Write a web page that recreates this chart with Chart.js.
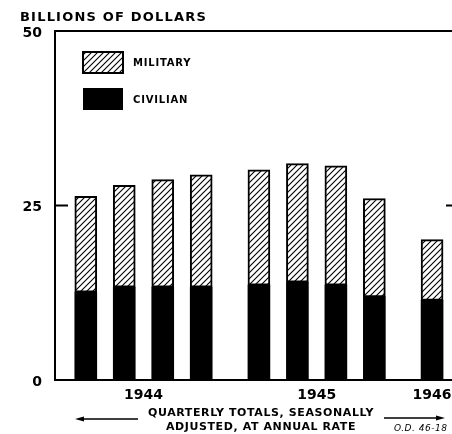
<!DOCTYPE html>
<html><head><meta charset="utf-8">
<script src="https://cdn.jsdelivr.net/npm/chart.js@4/dist/chart.umd.min.js"></script>
<style>
html,body{margin:0;padding:0;background:#fff;overflow:hidden;width:452px;height:434px}
#wrap{width:470px;height:434px;position:relative}
</style>
</head><body><div id="wrap"><canvas id="c" width="470" height="434"></canvas></div>
<script>
// ---- data ----
const years = ['1944', '1945', '1946'];
const quarterLabels = ['1944 Q1','1944 Q2','1944 Q3','1944 Q4','1945 Q1','1945 Q2','1945 Q3','1945 Q4','1946 Q1'];
const civilianValues = [12.6, 13.3, 13.3, 13.3, 13.6, 14.0, 13.6, 11.9, 11.4];
const militaryValues = [13.7, 14.6, 15.4, 16.1, 16.5, 17.0, 17.1, 14.1, 8.7];
const yTickValues = [0, 25, 50];

// ---- layout helpers (derived from categories) ----
const YEAR_STEP = 4.5; // quarters + gap between year groups
const slots = quarterLabels.map(l => {
  const [y, q] = l.split(' ');
  return years.indexOf(y) * YEAR_STEP + (parseInt(q.slice(1)) - 1);
});
const yearSlots = years.map(y => {
  const s = slots.filter((v, i) => quarterLabels[i].startsWith(y));
  return s.reduce((a, b) => a + b, 0) / s.length;
});

const FONT = "'DejaVu Sans', sans-serif";

function makeHatch(ctx) {
  const c = document.createElement('canvas');
  c.width = 6; c.height = 6;
  const g = c.getContext('2d');
  g.fillStyle = '#fff'; g.fillRect(0, 0, 6, 6);
  g.strokeStyle = '#000'; g.lineWidth = 1.1;
  g.beginPath();
  g.moveTo(-1, 7); g.lineTo(7, -1);
  g.moveTo(-4, 4); g.lineTo(4, -4);
  g.moveTo(2, 10); g.lineTo(10, 2);
  g.stroke();
  return ctx.createPattern(c, 'repeat');
}

const canvas = document.getElementById('c');
const ctx = canvas.getContext('2d');
const hatch = makeHatch(ctx);

const decor = {
  id: 'decor',
  afterDraw(chart) {
    const c = chart.ctx, a = chart.chartArea, ys = chart.scales.y;
    c.save();
    c.strokeStyle = '#000'; c.lineWidth = 2;
    // frame top/right
    c.beginPath();
    c.moveTo(a.left, a.top); c.lineTo(a.right, a.top); c.lineTo(a.right, a.bottom);
    c.stroke();
    // inner ticks at 25
    const p = ys.getPixelForValue(25);
    c.beginPath();
    c.moveTo(a.left, p); c.lineTo(a.left + 13, p);
    c.moveTo(a.right, p); c.lineTo(a.right - 13, p);
    c.stroke();
    c.fillStyle = '#000';
    // title
    c.font = 'bold 13px ' + FONT; c.letterSpacing = '1.2px';
    c.textBaseline = 'middle'; c.textAlign = 'left';
    c.fillText('BILLIONS OF DOLLARS', 20, 18);
    // legend
    c.fillStyle = hatch; c.fillRect(83, 52, 40, 21);
    c.strokeRect(83, 52, 40, 21);
    c.fillStyle = '#000'; c.fillRect(83, 88, 40, 22);
    c.font = 'bold 10px ' + FONT; c.letterSpacing = '0.8px';
    c.fillText('MILITARY', 133, 63);
    c.fillText('CIVILIAN', 133, 100);
    // bottom caption
    c.font = 'bold 11px ' + FONT; c.letterSpacing = '0.6px'; c.textAlign = 'center';
    c.fillText('QUARTERLY TOTALS, SEASONALLY', 261, 413);
    c.fillText('ADJUSTED, AT ANNUAL RATE', 261, 427);
    // arrows
    c.lineWidth = 1.5;
    c.beginPath(); c.moveTo(78, 419); c.lineTo(138, 419); c.moveTo(384, 418); c.lineTo(441, 418); c.stroke();
    c.beginPath(); c.moveTo(75, 419); c.lineTo(84, 416.5); c.lineTo(84, 421.5); c.closePath(); c.fill();
    c.beginPath(); c.moveTo(445, 418); c.lineTo(436, 415.5); c.lineTo(436, 420.5); c.closePath(); c.fill();
    // code
    c.font = 'italic 9px ' + FONT; c.letterSpacing = '0.5px'; c.textAlign = 'left';
    c.fillText('O.D. 46-18', 394, 429);
    c.restore();
  }
};

new Chart(ctx, {
  type: 'bar',
  data: {
    datasets: [
      { label: 'CIVILIAN', data: slots.map((x, i) => ({ x, y: civilianValues[i] })),
        backgroundColor: '#000', borderWidth: 0, barThickness: 22, stack: 's' },
      { label: 'MILITARY', data: slots.map((x, i) => ({ x, y: militaryValues[i] })),
        backgroundColor: hatch, borderColor: '#000', borderWidth: 2, borderSkipped: false,
        barThickness: 22, stack: 's' }
    ]
  },
  options: {
    responsive: false, animation: false, devicePixelRatio: 1,
    layout: { padding: { top: 31, right: 11, left: 0, bottom: 0 } },
    plugins: { legend: { display: false }, tooltip: { enabled: false }, title: { display: false } },
    scales: {
      x: {
        type: 'linear', min: -0.8, max: 9.7, stacked: true, offset: false,
        afterBuildTicks: s => { s.ticks = yearSlots.map(v => ({ value: v })); },
        afterFit: s => { s.height = 54; },
        grid: { display: false, drawTicks: false },
        border: { display: true, color: '#000', width: 2 },
        ticks: { callback: (v, i) => years[i], padding: 7, color: '#000',
          font: { family: FONT, size: 14, weight: 'bold' }, maxRotation: 0, autoSkip: false }
      },
      y: {
        min: 0, max: 50, stacked: true,
        afterBuildTicks: s => { s.ticks = yTickValues.map(v => ({ value: v })); },
        afterFit: s => { s.width = 55; },
        grid: { display: false, drawTicks: false },
        border: { display: true, color: '#000', width: 2 },
        ticks: { padding: 13, color: '#000', labelOffset: 2,
          font: { family: FONT, size: 14, weight: 'bold' } }
      }
    }
  },
  plugins: [decor]
});
</script>
</body></html>
